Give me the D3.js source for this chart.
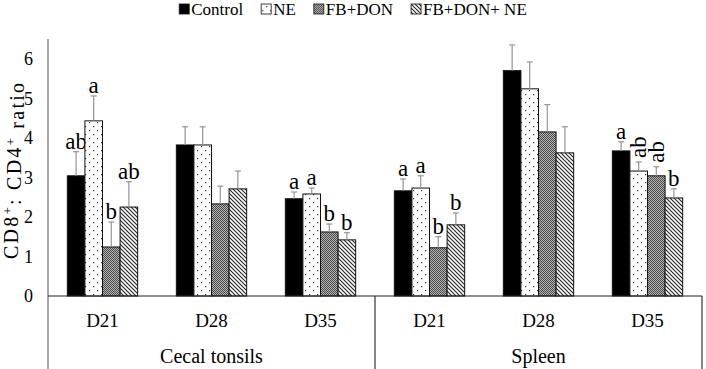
<!DOCTYPE html>
<html>
<head>
<meta charset="utf-8">
<script src="https://cdn.jsdelivr.net/npm/d3@7"></script>
<style>
  body { margin: 0; background: #fff; }
  svg text { font-family: "Liberation Serif", "DejaVu Serif", serif; }
</style>
</head>
<body>
<svg id="chart" width="706" height="369"></svg>
<script>
// chart data
var organs = ["Cecal tonsils", "Spleen"];
var days = ["D21", "D28", "D35"];
var series = ["Control", "NE", "FB+DON", "FB+DON+ NE"];
var yTicks = [0, 1, 2, 3, 4, 5, 6];

// means, in order CT D21, D28, D35, Spleen D21, D28, D35
var controlMean = [3.04, 3.82, 2.46, 2.66, 5.70, 3.67];
var neMean      = [4.43, 3.82, 2.58, 2.73, 5.24, 3.16];
var fbdonMean   = [1.24, 2.33, 1.62, 1.22, 4.15, 3.04];
var fbdonNeMean = [2.25, 2.71, 1.42, 1.80, 3.62, 2.48];

// error bars (upper only)
var controlErr = [0.61, 0.46, 0.17, 0.30, 0.65, 0.23];
var neErr      = [0.63, 0.46, 0.15, 0.31, 0.68, 0.23];
var fbdonErr   = [0.63, 0.45, 0.20, 0.28, 0.69, 0.23];
var fbdonNeErr = [0.64, 0.45, 0.18, 0.30, 0.66, 0.23];

// significance letters
var controlLetters = ["ab", "", "a", "a", "", "a"];
var neLetters      = ["a", "", "a", "a", "", "ab"];
var fbdonLetters   = ["b", "", "b", "b", "", "ab"];
var fbdonNeLetters = ["ab", "", "b", "b", "", "b"];

var means = [controlMean, neMean, fbdonMean, fbdonNeMean];
var errs = [controlErr, neErr, fbdonErr, fbdonNeErr];
var letters = [controlLetters, neLetters, fbdonLetters, fbdonNeLetters];

var svg = d3.select("#chart");
var defs = svg.append("defs");

// patterns
var pDots = defs.append("pattern").attr("id", "pDots")
    .attr("patternUnits", "userSpaceOnUse").attr("width", 8).attr("height", 8);
pDots.append("rect").attr("width", 8).attr("height", 8).attr("fill", "#fff");
pDots.append("rect").attr("x", 1).attr("y", 2).attr("width", 1.2).attr("height", 1.2).attr("fill", "#333");
pDots.append("rect").attr("x", 5).attr("y", 6).attr("width", 1.2).attr("height", 1.2).attr("fill", "#333");

var pCheck = defs.append("pattern").attr("id", "pCheck")
    .attr("patternUnits", "userSpaceOnUse").attr("width", 2).attr("height", 2);
pCheck.append("rect").attr("width", 2).attr("height", 2).attr("fill", "#b4b4b4");
pCheck.append("rect").attr("width", 1).attr("height", 1).attr("fill", "#4a4a4a");
pCheck.append("rect").attr("x", 1).attr("y", 1).attr("width", 1).attr("height", 1).attr("fill", "#4a4a4a");

var pHatch = defs.append("pattern").attr("id", "pHatch")
    .attr("patternUnits", "userSpaceOnUse").attr("width", 4).attr("height", 4);
pHatch.append("rect").attr("width", 4).attr("height", 4).attr("fill", "#fff");
pHatch.append("path").attr("d", "M-1,-1 L5,5 M-1,3 L1,5 M3,-1 L5,1")
    .attr("stroke", "#222").attr("stroke-width", 1.1);

var fills = ["#000", "url(#pDots)", "url(#pCheck)", "url(#pHatch)"];

// layout (plotTop: "top" is taken by window.top)
var plotLeft = 48, plotRight = 702, plotTop = 39, base = 296, plotBottom = 369;

var y = d3.scaleLinear().domain([0, 6.5]).range([base, plotTop]);
var xOrgan = d3.scaleBand().domain(organs).range([plotLeft, plotRight]);
var xDay = d3.scaleBand().domain(days).range([0, xOrgan.bandwidth()]);
var xSeries = d3.scaleBand().domain(series).range([0, xDay.bandwidth()])
    .paddingInner(0).paddingOuter(1.1);

// y axis
var yAxis = svg.append("g")
    .attr("transform", "translate(" + plotLeft + ",0)")
    .call(d3.axisLeft(y).tickValues(yTicks).tickFormat(d3.format("d"))
        .tickSize(0).tickPadding(15));
yAxis.attr("font-family", null);
yAxis.select(".domain").remove();
yAxis.selectAll("text")
    .attr("font-size", 18)
    .attr("fill", "#000");

svg.append("line")
    .attr("x1", plotLeft).attr("x2", plotLeft)
    .attr("y1", plotTop).attr("y2", plotBottom)
    .attr("stroke", "#6e6e6e").attr("stroke-width", 1.2);

// y title
var title = svg.append("text")
    .attr("transform", "translate(18,171) rotate(-90)")
    .attr("text-anchor", "middle")
    .attr("font-size", 20)
    .attr("textLength", 176)
    .attr("lengthAdjust", "spacing");
title.append("tspan").text("CD8");
title.append("tspan").attr("dy", "-0.45em").attr("font-size", 13).text("+");
title.append("tspan").attr("dy", "0.45em").text(": CD4");
title.append("tspan").attr("dy", "-0.45em").attr("font-size", 13).text("+");
title.append("tspan").attr("dy", "0.45em").text(" ratio");

// bars
var rows = [];
organs.forEach(function (o, oi) {
    days.forEach(function (d, di) {
        var gi = oi * days.length + di;
        series.forEach(function (s, si) {
            rows.push({
                organ: o, day: d, series: s, si: si,
                mean: means[si][gi], err: errs[si][gi], letter: letters[si][gi]
            });
        });
    });
});

function barX(r) {
    return xOrgan(r.organ) + xDay(r.day) + xSeries(r.series);
}

var bars = svg.append("g").selectAll("g")
    .data(rows)
    .enter()
    .append("g");

bars.append("rect")
    .attr("x", barX)
    .attr("y", function (r) { return y(r.mean); })
    .attr("width", xSeries.bandwidth())
    .attr("height", function (r) { return base - y(r.mean); })
    .attr("fill", function (r) { return fills[r.si]; })
    .attr("stroke", "#111")
    .attr("stroke-width", 1);

// error bars
bars.append("line")
    .attr("x1", function (r) { return barX(r) + xSeries.bandwidth() / 2; })
    .attr("x2", function (r) { return barX(r) + xSeries.bandwidth() / 2; })
    .attr("y1", function (r) { return y(r.mean); })
    .attr("y2", function (r) { return y(r.mean + r.err); })
    .attr("stroke", "#959595").attr("stroke-width", 1.2);
bars.append("line")
    .attr("x1", function (r) { return barX(r) + xSeries.bandwidth() / 2 - 3; })
    .attr("x2", function (r) { return barX(r) + xSeries.bandwidth() / 2 + 3; })
    .attr("y1", function (r) { return y(r.mean + r.err); })
    .attr("y2", function (r) { return y(r.mean + r.err); })
    .attr("stroke", "#959595").attr("stroke-width", 1.2);

// letters (the two crowded ones in Spleen D35 are turned on their side)
var rotated = ["Spleen|D35|NE", "Spleen|D35|FB+DON"];
bars.filter(function (r) { return r.letter !== ""; })
    .append("text")
    .attr("font-size", 23)
    .attr("fill", "#000")
    .each(function (r) {
        var cx = barX(r) + xSeries.bandwidth() / 2;
        var ty = y(r.mean + r.err) - 3;
        var t = d3.select(this).text(r.letter);
        if (rotated.indexOf(r.organ + "|" + r.day + "|" + r.series) >= 0) {
            t.attr("transform", "translate(" + cx + "," + (ty - 1) + ") rotate(-90)")
                .attr("text-anchor", "start")
                .attr("dy", "0.33em");
        } else {
            t.attr("x", cx).attr("y", ty).attr("text-anchor", "middle");
        }
    });

// category axis
svg.append("line")
    .attr("x1", plotLeft).attr("x2", plotRight)
    .attr("y1", base).attr("y2", base)
    .attr("stroke", "#222").attr("stroke-width", 1.2);

organs.forEach(function (o, oi) {
    if (oi > 0) {
        svg.append("line")
            .attr("x1", xOrgan(o)).attr("x2", xOrgan(o))
            .attr("y1", base).attr("y2", plotBottom)
            .attr("stroke", "#333").attr("stroke-width", 1.2);
    }
    days.forEach(function (d) {
        svg.append("text")
            .attr("x", xOrgan(o) + xDay(d) + xDay.bandwidth() / 2)
            .attr("y", 327)
            .attr("text-anchor", "middle")
            .attr("font-size", 19)
            .text(d);
    });
    svg.append("text")
        .attr("x", xOrgan(o) + xOrgan.bandwidth() / 2)
        .attr("y", 363)
        .attr("text-anchor", "middle")
        .attr("font-size", 20)
        .text(o);
});
svg.append("line")
    .attr("x1", plotRight).attr("x2", plotRight)
    .attr("y1", base).attr("y2", plotBottom)
    .attr("stroke", "#333").attr("stroke-width", 1.2);

// legend
var legend = svg.append("g");
var items = legend.selectAll("g").data(series).enter().append("g");
items.append("rect")
    .attr("width", 10).attr("height", 10)
    .attr("y", 4)
    .attr("fill", function (d, i) { return fills[i]; })
    .attr("stroke", "#111").attr("stroke-width", 0.8);
items.append("text")
    .attr("x", 12).attr("y", 15)
    .attr("font-size", 17)
    .text(function (d) { return d; });
var lx = 0;
items.each(function () {
    var w = 12 + d3.select(this).select("text").node().getComputedTextLength();
    d3.select(this).attr("transform", "translate(" + lx + ",0)");
    lx += w + 18;
});
legend.attr("transform", "translate(" + (353 - (lx - 18) / 2) + ",0)");
</script>
</body>
</html>
